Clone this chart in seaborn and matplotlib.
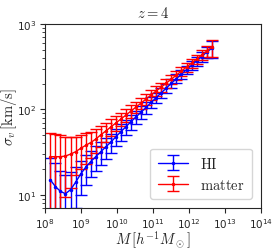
import numpy as np
import pandas as pd
import matplotlib
matplotlib.use("Agg")
import matplotlib.pyplot as plt
import seaborn as sns

# halo mass bins (log10 M [h^-1 Msun])
log_mass = [8.15, 8.29, 8.43, 8.57, 8.71, 8.85, 8.99, 9.13, 9.27, 9.41, 9.55,
            9.69, 9.83, 9.97, 10.11, 10.25, 10.39, 10.53, 10.67, 10.81, 10.95,
            11.09, 11.23, 11.37, 11.51, 11.65, 11.79, 11.93, 12.07, 12.21,
            12.35, 12.49, 12.63]

# velocity dispersion of HI [km/s]
sigma_hi = [15, 12.5, 11, 10.3, 11.5, 14, 17.5, 21, 24.5, 28, 32,
            36.5, 41.5, 48, 55, 63, 72, 82, 93, 106, 121,
            138, 157, 178, 203, 230, 260, 293, 330, 370,
            415, 470, 520]
err_hi = [12, 11, 8, 7, 7, 7, 7.5, 8, 8.5, 9, 9.5,
          10, 10.5, 11, 12, 13, 14, 15, 16, 17, 18,
          19, 21, 23, 25, 27, 30, 33, 38, 45,
          55, 70, 120]

# velocity dispersion of matter [km/s]
sigma_matter = [28, 28, 28, 28.5, 30, 32, 35, 38, 41, 45, 50.5,
                56, 62.5, 69.5, 77.5, 86, 96, 107, 119, 133, 148,
                165, 183, 204, 227, 253, 282, 314, 349, 389,
                433, 482, 537]
err_matter = [25, 24, 22, 19, 18, 15, 15, 15, 14, 14, 14,
              14, 14, 14, 14, 15, 16, 17, 18, 19, 20,
              22, 24, 26, 28, 31, 34, 38, 42, 48,
              58, 75, 120]

df = pd.DataFrame({"M": 10 ** np.array(log_mass),
                   "HI": sigma_hi, "HI_err": err_hi,
                   "matter": sigma_matter, "matter_err": err_matter})

sns.set_style("ticks")
plt.rcParams["font.family"] = ["DejaVu Sans"]

fig = plt.figure(figsize=(2.74, 2.51), dpi=100)
ax = fig.add_axes([0.164, 0.167, 0.789, 0.733])

ax.errorbar(df["M"], df["HI"], yerr=df["HI_err"], color="blue", marker=".",
            markersize=3, lw=1, elinewidth=1, capsize=4, label=r"$\rm HI$")
ax.errorbar(df["M"], df["matter"], yerr=df["matter_err"], color="red", marker=".",
            markersize=3, lw=1, elinewidth=1, capsize=4, label=r"$\rm matter$")

ax.set_xscale("log")
ax.set_yscale("log")
ax.set_xlim(1e8, 1e14)
ax.set_ylim(7, 1000)
ax.set_xticks([10.0 ** k for k in range(8, 15)])
ax.tick_params(labelsize=7.5, pad=2.5)

ax.set_title(r"$z=4$", fontsize=10.5, math_fontfamily="cm", pad=5)
ax.set_xlabel(r"$M\,[h^{-1}M_\odot]$", fontsize=10.5, math_fontfamily="cm", labelpad=-1)
ax.set_ylabel(r"$\sigma_v\,[\rm km/s]$", fontsize=10.5, math_fontfamily="cm", labelpad=-1)

ax.legend(loc="lower right", prop={"size": 10.5, "math_fontfamily": "cm"},
          handlelength=2.1, borderpad=0.5, labelspacing=0.4,
          bbox_to_anchor=(0.99, 0.01))

fig.savefig("out.png", dpi=100)
